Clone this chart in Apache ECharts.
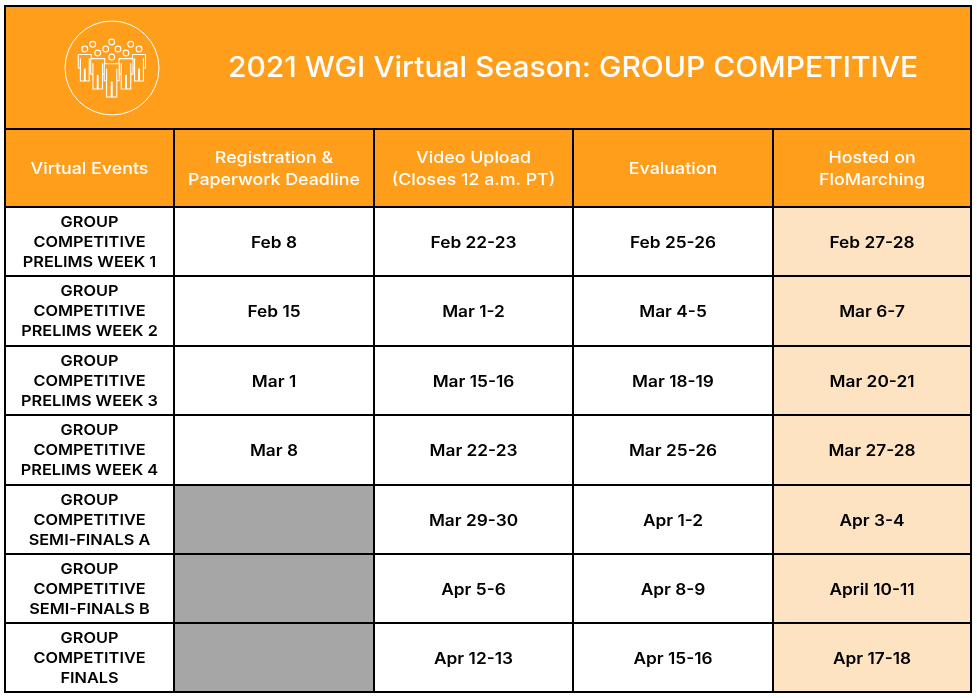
<!DOCTYPE html>
<html>
<head>
<meta charset="utf-8">
<title>2021 WGI Virtual Season</title>
<script src="https://cdn.jsdelivr.net/npm/echarts@6/dist/echarts.min.js"></script>
<style>
html,body{margin:0;padding:0;background:#fff;}
#main{width:977px;height:698px;}
</style>
</head>
<body>
<div id="main"></div>
<script>
var chartTitle = '2021 WGI Virtual Season: GROUP COMPETITIVE';
var headers = ['Virtual Events', 'Registration &\nPaperwork Deadline', 'Video Upload\n(Closes 12 a.m. PT)', 'Evaluation', 'Hosted on\nFloMarching'];
var events = [
	'GROUP\nCOMPETITIVE\nPRELIMS WEEK 1',
	'GROUP\nCOMPETITIVE\nPRELIMS WEEK 2',
	'GROUP\nCOMPETITIVE\nPRELIMS WEEK 3',
	'GROUP\nCOMPETITIVE\nPRELIMS WEEK 4',
	'GROUP\nCOMPETITIVE\nSEMI-FINALS A',
	'GROUP\nCOMPETITIVE\nSEMI-FINALS B',
	'GROUP\nCOMPETITIVE\nFINALS'
];
// null = greyed out, no deadline
var deadlines = ['Feb 8', 'Feb 15', 'Mar 1', 'Mar 8', null, null, null];
var uploads = ['Feb 22-23', 'Mar 1-2', 'Mar 15-16', 'Mar 22-23', 'Mar 29-30', 'Apr 5-6', 'Apr 12-13'];
var evaluations = ['Feb 25-26', 'Mar 4-5', 'Mar 18-19', 'Mar 25-26', 'Apr 1-2', 'Apr 8-9', 'Apr 15-16'];
var hosted = ['Feb 27-28', 'Mar 6-7', 'Mar 20-21', 'Mar 27-28', 'Apr 3-4', 'April 10-11', 'Apr 17-18'];

// table grid lines
var colEdges = [5, 174, 374, 573, 773, 971];
var rowEdges = [6, 129, 207, 276, 346, 415, 485, 554, 623, 692];

var ORANGE = '#ff9e1b';
var PEACH = '#fde3c2';
var GREY = '#a6a6a6';
var FONT = 'Inter';
var WIDEN = 1.08; // reference face is wider than Inter

// cell list: [col start, row start, col end, text, type]
var cells = [];
cells.push([0, 0, 5, chartTitle, 'title']);
headers.forEach(function(h, i){
	cells.push([i, 1, i + 1, h, 'header']);
});
events.forEach(function(e, i){
	var row = i + 2;
	cells.push([0, row, 1, e, 'event']);
	if(deadlines[i] === null){
		cells.push([1, row, 2, '', 'blank']);
	}else{
		cells.push([1, row, 2, deadlines[i], 'date']);
	}
	cells.push([2, row, 3, uploads[i], 'date']);
	cells.push([3, row, 4, evaluations[i], 'date']);
	cells.push([4, row, 5, hosted[i], 'hosted']);
});

function renderCell(params, api){
	var c = cells[params.dataIndex];
	var p0 = api.coord([colEdges[c[0]], rowEdges[c[1]]]);
	var p1 = api.coord([colEdges[c[2]], rowEdges[c[1] + 1]]);
	var type = c[4];
	var fill = '#fff';
	if(type == 'title' || type == 'header') fill = ORANGE;
	if(type == 'hosted') fill = PEACH;
	if(type == 'blank') fill = GREY;

	var tx = (p0[0] + p1[0]) / 2;
	var ty = (p0[1] + p1[1]) / 2 + 1.25;
	var textStyle = {
		text: c[3],
		x: 0,
		y: 0,
		align: 'center',
		verticalAlign: 'middle',
		fontFamily: FONT,
		fill: '#000',
		fontWeight: 600,
		fontSize: 16,
		lineHeight: 20
	};
	if(type == 'header'){
		textStyle.fill = '#fff';
		textStyle.fontWeight = 500;
		textStyle.fontSize = 16.5;
		textStyle.lineHeight = 22;
		ty = ty - 0.25;
	}
	if(type == 'event'){
		textStyle.fontSize = 15.1;
		ty = ty - 0.4;
	}
	if(type == 'title'){
		textStyle.fill = '#fff';
		textStyle.fontWeight = 500;
		textStyle.fontSize = 27.8;
		tx = 573;
		ty = 69;
	}
	return {
		type: 'group',
		children: [
			{
				type: 'rect',
				shape: {x: p0[0], y: p0[1], width: p1[0] - p0[0], height: p1[1] - p0[1]},
				style: {fill: fill, stroke: '#000', lineWidth: 2}
			},
			{type: 'text', x: tx, y: ty, scaleX: WIDEN, style: textStyle}
		]
	};
}

// logo: little people inside a ring
function person(cx, top, hw, h){
	var shape = [[-1,0.02],[1,0.02],[1,0.52],[0.68,0.52],[0.68,0.18],[0.68,1],[0.06,1],[0.06,0.56],[-0.06,0.56],[-0.06,1],[-0.68,1],[-0.68,0.18],[-0.68,0.52],[-1,0.52],[-1,0.02]];
	return {
		type: 'polyline',
		shape: {points: shape.map(function(s){ return [cx + s[0] * hw, top + s[1] * h]; })},
		style: {fill: ORANGE, stroke: '#fff', lineWidth: 1.1, lineJoin: 'round'},
		z: 10
	};
}
function head(cx, cy){
	return {
		type: 'circle',
		shape: {cx: cx, cy: cy, r: 2.9},
		style: {fill: ORANGE, stroke: '#fff', lineWidth: 1.1},
		z: 10
	};
}
var logo = [
	{type: 'circle', shape: {cx: 112, cy: 68, r: 47}, style: {fill: 'none', stroke: '#fff', lineWidth: 1}, z: 10},
	head(92.7, 44.3), head(105.7, 49), head(111.7, 42), head(118, 49), head(130.7, 44.3),
	head(84.8, 49), head(139, 49), person(84.8, 54, 6.5, 27), person(139, 54, 6.5, 27),
	head(97.7, 53), head(126, 53), person(97.7, 58, 7, 31), person(126, 58, 7, 31),
	head(111.7, 57), person(111.7, 63, 7.5, 34)
];

var chart = echarts.init(document.getElementById('main'));
chart.setOption({
	animation: false,
	backgroundColor: '#fff',
	grid: {left: 0, right: 0, top: 0, bottom: 0},
	xAxis: {type: 'value', min: 0, max: 977, show: false},
	yAxis: {type: 'value', min: 0, max: 698, inverse: true, show: false},
	graphic: logo,
	series: [{
		type: 'custom',
		coordinateSystem: 'cartesian2d',
		renderItem: renderCell,
		encode: {x: 0, y: 1},
		data: cells.map(function(c){ return [colEdges[c[0]], rowEdges[c[1]]]; }),
		clip: false,
		silent: true
	}]
});
</script>
</body>
</html>
